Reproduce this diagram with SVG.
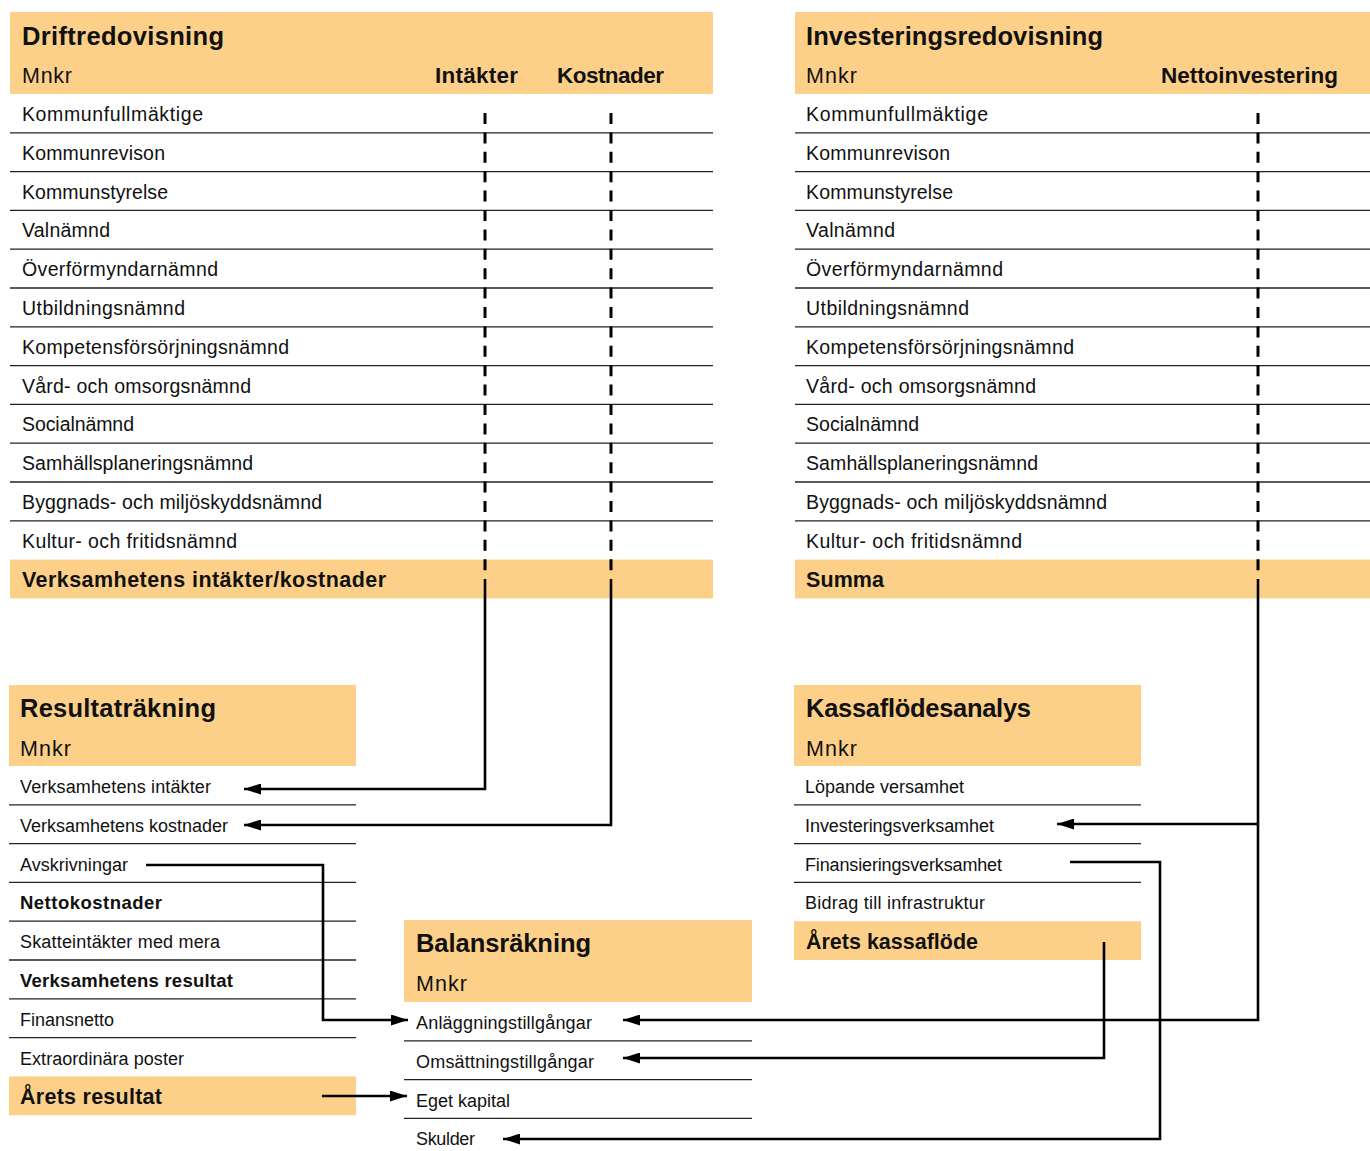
<svg xmlns="http://www.w3.org/2000/svg" width="1370" height="1151" viewBox="0 0 1370 1151">
<style>
text{font-family:"Liberation Sans",Arial,sans-serif;fill:#111}
.t{font-size:25.5px;font-weight:bold}
.m{font-size:21.5px}
.h{font-size:21.5px;font-weight:bold}
.hh{font-size:22.5px;font-weight:bold}
.r{font-size:19.5px}
.s{font-size:18px}
.b{font-size:18.5px;font-weight:bold}
.fill{fill:#FCD089}
.sep{stroke:#222;stroke-width:1.3}
.c{fill:none;stroke:#000;stroke-width:2.6}
.d{fill:none;stroke:#000;stroke-width:3;stroke-dasharray:11 8.4}
</style>
<defs>
<marker id="ah" markerUnits="userSpaceOnUse" markerWidth="17" markerHeight="11" refX="17" refY="5.5" orient="auto">
<path d="M0,0 L17,5.5 L0,11 Z" fill="#000"/>
</marker>
</defs>
<rect width="1370" height="1151" fill="#fff"/>

<g id="driftredovisning">
<rect class="fill" x="10" y="12" width="703" height="82"/>
<rect class="fill" x="10" y="559.6" width="703" height="38.8"/>
<text class="t" x="22" y="45" textLength="202">Driftredovisning</text>
<text class="m" x="22" y="83" textLength="50">Mnkr</text>
<text class="hh" x="435" y="83" textLength="83">Intäkter</text>
<text class="hh" x="557" y="83" textLength="107">Kostnader</text>
<g class="sep">
<line x1="10" y1="132.8" x2="713" y2="132.8"/><line x1="10" y1="171.6" x2="713" y2="171.6"/><line x1="10" y1="210.4" x2="713" y2="210.4"/><line x1="10" y1="249.2" x2="713" y2="249.2"/><line x1="10" y1="288" x2="713" y2="288"/><line x1="10" y1="326.8" x2="713" y2="326.8"/><line x1="10" y1="365.6" x2="713" y2="365.6"/><line x1="10" y1="404.4" x2="713" y2="404.4"/><line x1="10" y1="443.2" x2="713" y2="443.2"/><line x1="10" y1="482" x2="713" y2="482"/><line x1="10" y1="520.8" x2="713" y2="520.8"/>
</g>
<text class="r" x="22" y="121" textLength="181">Kommunfullmäktige</text>
<text class="r" x="22" y="159.8" textLength="143">Kommunrevison</text>
<text class="r" x="22" y="198.6" textLength="146">Kommunstyrelse</text>
<text class="r" x="22" y="237.4" textLength="88">Valnämnd</text>
<text class="r" x="22" y="276.2" textLength="196">Överförmyndarnämnd</text>
<text class="r" x="22" y="315" textLength="163">Utbildningsnämnd</text>
<text class="r" x="22" y="353.8" textLength="267">Kompetensförsörjningsnämnd</text>
<text class="r" x="22" y="392.6" textLength="229">Vård- och omsorgsnämnd</text>
<text class="r" x="22" y="431.4" textLength="112">Socialnämnd</text>
<text class="r" x="22" y="470.2" textLength="231">Samhällsplaneringsnämnd</text>
<text class="r" x="22" y="509" textLength="300">Byggnads- och miljöskyddsnämnd</text>
<text class="r" x="22" y="547.8" textLength="215">Kultur- och fritidsnämnd</text>
<text class="h" x="22" y="587" textLength="364">Verksamhetens intäkter/kostnader</text>
</g>

<g id="investeringsredovisning">
<rect class="fill" x="795" y="12" width="575" height="82"/>
<rect class="fill" x="795" y="559.6" width="575" height="38.8"/>
<text class="t" x="806" y="45" textLength="297">Investeringsredovisning</text>
<text class="m" x="806" y="83" textLength="51">Mnkr</text>
<text class="hh" x="1161" y="83" textLength="177">Nettoinvestering</text>
<g class="sep">
<line x1="795" y1="132.8" x2="1370" y2="132.8"/><line x1="795" y1="171.6" x2="1370" y2="171.6"/><line x1="795" y1="210.4" x2="1370" y2="210.4"/><line x1="795" y1="249.2" x2="1370" y2="249.2"/><line x1="795" y1="288" x2="1370" y2="288"/><line x1="795" y1="326.8" x2="1370" y2="326.8"/><line x1="795" y1="365.6" x2="1370" y2="365.6"/><line x1="795" y1="404.4" x2="1370" y2="404.4"/><line x1="795" y1="443.2" x2="1370" y2="443.2"/><line x1="795" y1="482" x2="1370" y2="482"/><line x1="795" y1="520.8" x2="1370" y2="520.8"/>
</g>
<text class="r" x="806" y="121" textLength="182">Kommunfullmäktige</text>
<text class="r" x="806" y="159.8" textLength="144">Kommunrevison</text>
<text class="r" x="806" y="198.6" textLength="147">Kommunstyrelse</text>
<text class="r" x="806" y="237.4" textLength="89">Valnämnd</text>
<text class="r" x="806" y="276.2" textLength="197">Överförmyndarnämnd</text>
<text class="r" x="806" y="315" textLength="163">Utbildningsnämnd</text>
<text class="r" x="806" y="353.8" textLength="268">Kompetensförsörjningsnämnd</text>
<text class="r" x="806" y="392.6" textLength="230">Vård- och omsorgsnämnd</text>
<text class="r" x="806" y="431.4" textLength="113">Socialnämnd</text>
<text class="r" x="806" y="470.2" textLength="232">Samhällsplaneringsnämnd</text>
<text class="r" x="806" y="509" textLength="301">Byggnads- och miljöskyddsnämnd</text>
<text class="r" x="806" y="547.8" textLength="216">Kultur- och fritidsnämnd</text>
<text class="h" x="806" y="587" textLength="78">Summa</text>
</g>

<g id="resultatrakning">
<rect class="fill" x="9" y="685" width="347" height="81"/>
<rect class="fill" x="9" y="1076.4" width="347" height="38.8"/>
<text class="t" x="20" y="717" textLength="196">Resultaträkning</text>
<text class="m" x="20" y="756" textLength="51">Mnkr</text>
<g class="sep">
<line x1="9" y1="804.8" x2="356" y2="804.8"/><line x1="9" y1="843.6" x2="356" y2="843.6"/><line x1="9" y1="882.4" x2="356" y2="882.4"/><line x1="9" y1="921.2" x2="356" y2="921.2"/><line x1="9" y1="960" x2="356" y2="960"/><line x1="9" y1="998.8" x2="356" y2="998.8"/><line x1="9" y1="1037.6" x2="356" y2="1037.6"/>
</g>
<text class="s" x="20" y="793" textLength="191">Verksamhetens intäkter</text>
<text class="s" x="20" y="831.8" textLength="208">Verksamhetens kostnader</text>
<text class="s" x="20" y="870.6" textLength="108">Avskrivningar</text>
<text class="b" x="20" y="909.4" textLength="142">Nettokostnader</text>
<text class="s" x="20" y="948.2" textLength="200">Skatteintäkter med mera</text>
<text class="b" x="20" y="987" textLength="213">Verksamhetens resultat</text>
<text class="s" x="20" y="1025.8" textLength="94">Finansnetto</text>
<text class="s" x="20" y="1064.6" textLength="164">Extraordinära poster</text>
<text class="h" x="20" y="1104" textLength="142">Årets resultat</text>
</g>

<g id="kassaflodesanalys">
<rect class="fill" x="794" y="685" width="347" height="81"/>
<rect class="fill" x="794" y="921.2" width="347" height="38.8"/>
<text class="t" x="806" y="717" textLength="225">Kassaflödesanalys</text>
<text class="m" x="806" y="756" textLength="51">Mnkr</text>
<g class="sep">
<line x1="794" y1="804.8" x2="1141" y2="804.8"/><line x1="794" y1="843.6" x2="1141" y2="843.6"/><line x1="794" y1="882.4" x2="1141" y2="882.4"/>
</g>
<text class="s" x="805" y="793" textLength="159">Löpande versamhet</text>
<text class="s" x="805" y="831.8" textLength="189">Investeringsverksamhet</text>
<text class="s" x="805" y="870.6" textLength="197">Finansieringsverksamhet</text>
<text class="s" x="805" y="909.4" textLength="180">Bidrag till infrastruktur</text>
<text class="h" x="806" y="949" textLength="172">Årets kassaflöde</text>
</g>

<g id="balansrakning">
<rect class="fill" x="404" y="920" width="348" height="82"/>
<text class="t" x="416" y="952" textLength="175">Balansräkning</text>
<text class="m" x="416" y="991" textLength="51">Mnkr</text>
<g class="sep">
<line x1="404" y1="1040.8" x2="752" y2="1040.8"/><line x1="404" y1="1079.6" x2="752" y2="1079.6"/><line x1="404" y1="1118.4" x2="752" y2="1118.4"/>
</g>
<text class="s" x="416" y="1029" textLength="176">Anläggningstillgångar</text>
<text class="s" x="416" y="1067.8" textLength="178">Omsättningstillgångar</text>
<text class="s" x="416" y="1106.6" textLength="94">Eget kapital</text>
<text class="s" x="416" y="1145.4" textLength="59">Skulder</text>
</g>

<g id="connectors">
<line class="d" x1="485" y1="113" x2="485" y2="578"/>
<line class="d" x1="611" y1="113" x2="611" y2="578"/>
<line class="d" x1="1258" y1="113" x2="1258" y2="578"/>
<polyline class="c" points="485,579 485,789 244,789" marker-end="url(#ah)"/>
<polyline class="c" points="611,579 611,825 244,825" marker-end="url(#ah)"/>
<polyline class="c" points="146,865 323,865 323,1020 408,1020" marker-end="url(#ah)"/>
<polyline class="c" points="322,1096 407,1096" marker-end="url(#ah)"/>
<polyline class="c" points="1258,579 1258,1020 623,1020" marker-end="url(#ah)"/>
<polyline class="c" points="1258,824 1057,824" marker-end="url(#ah)"/>
<polyline class="c" points="1070,862 1160,862 1160,1139 503,1139" marker-end="url(#ah)"/>
<polyline class="c" points="1104,942 1104,1058 623,1058" marker-end="url(#ah)"/>
</g>
</svg>
